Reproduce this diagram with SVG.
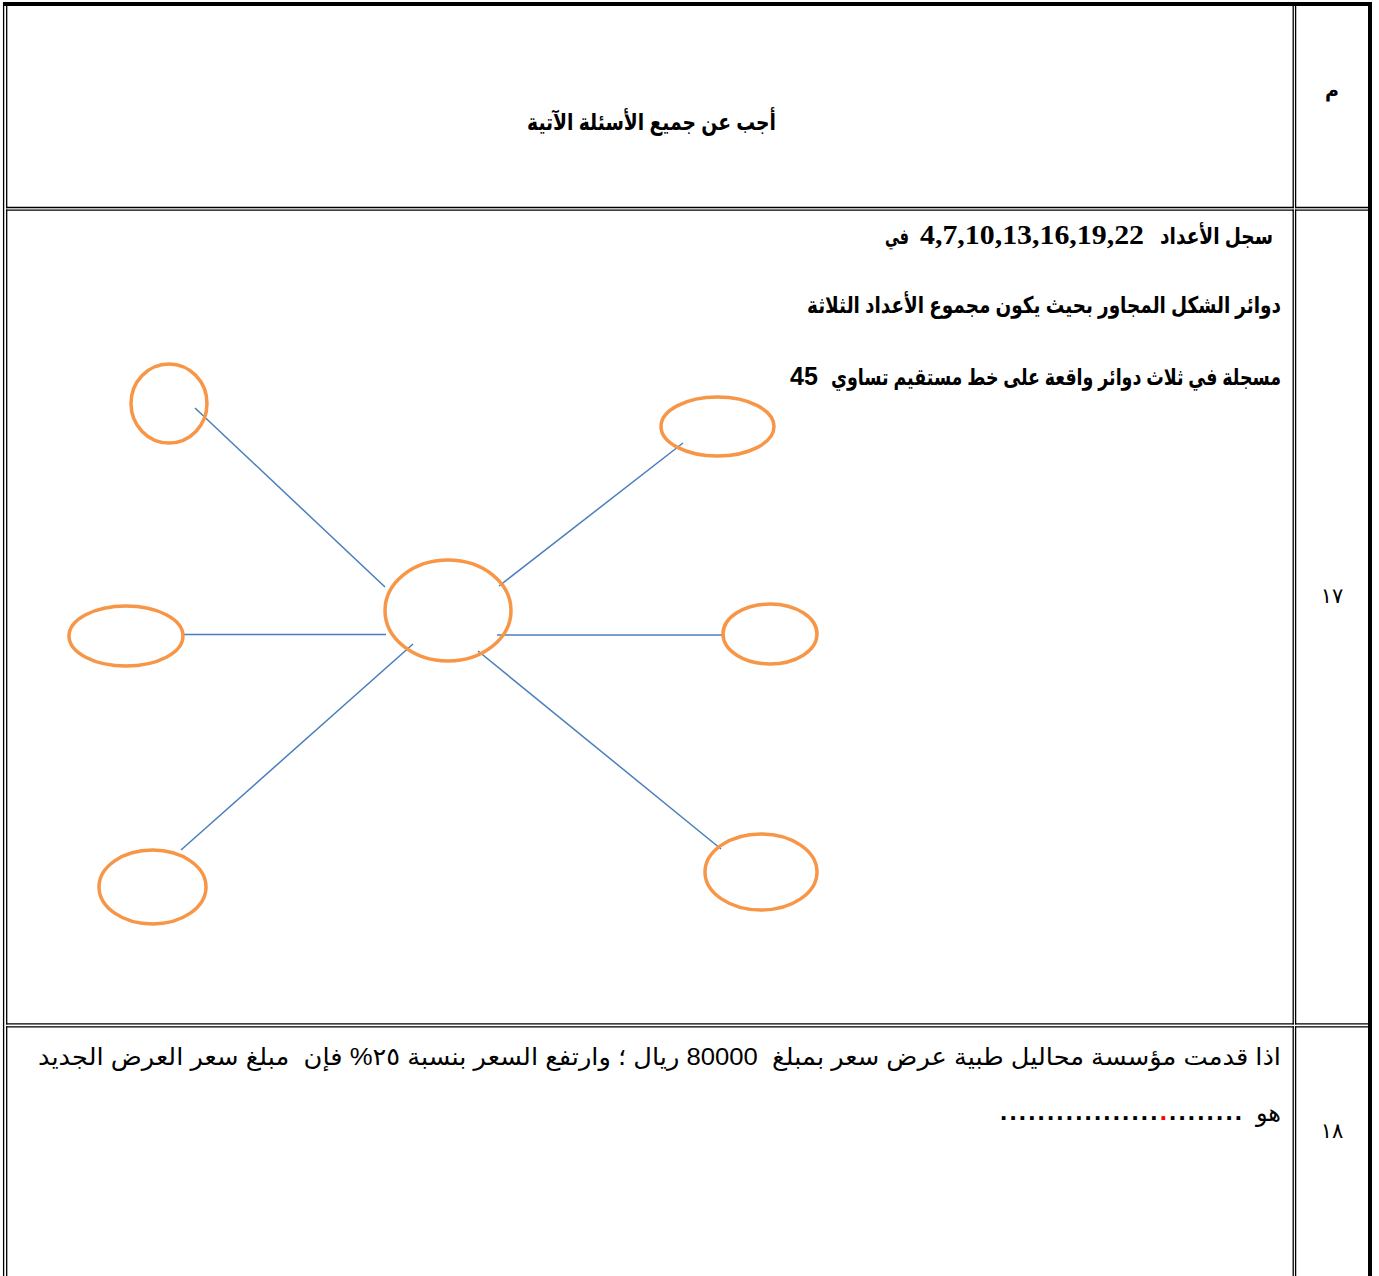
<svg xmlns="http://www.w3.org/2000/svg" width="1379" height="1276" viewBox="0 0 1379 1276">
<style>
.bd{stroke:#000;stroke-width:1.3;fill:none;stroke-linecap:square}
text{white-space:pre}
.ar{font-family:'Liberation Sans','DejaVu Sans',sans-serif;fill:#000}
.b{font-weight:bold}
.num{font-family:'Liberation Serif',serif;font-weight:bold;fill:#000}
.ell{fill:none;stroke:#F79646;stroke-width:3.5}
.cn{stroke:#4A7EBB;stroke-width:1.5;fill:none}
</style>
<rect width="1379" height="1276" fill="#fff"/>
<g id="table">
<rect x="3" y="2" width="1369" height="4" fill="#000"/>
<rect x="1368" y="2" width="4" height="1274" fill="#000"/>
<path class="bd" d="M3.6 3V1276"/>
<path class="bd" d="M6.7 6V207.5M6.7 210.2V1023.8M6.7 1026.9V1276"/>
<path class="bd" d="M1293.2 6V207.5M1293.2 210.2V1023.8M1293.2 1026.9V1276"/>
<path class="bd" d="M1295.6 6V207.5M1295.6 210.2V1023.8M1295.6 1026.9V1276"/>
<path class="bd" d="M6.7 207.5H1293.2M1295.6 207.5H1368M6.7 210.2H1293.2M1295.6 210.2H1368"/>
<path class="bd" d="M6.7 1023.8H1293.2M1295.6 1023.8H1368M6.7 1026.9H1293.2M1295.6 1026.9H1368"/>
</g>
<g id="header">
<text class="ar b" x="1332" y="97" font-size="19" text-anchor="middle">م</text>
<text class="ar b" x="651.5" y="130" font-size="23" text-anchor="middle" direction="rtl" textLength="249" lengthAdjust="spacingAndGlyphs">أجب عن جميع الأسئلة الآتية</text>
</g>
<g id="q17">
<text class="ar" x="1332" y="603" font-size="21" text-anchor="middle">١٧</text>
<text class="ar b" x="1216.5" y="244" font-size="23" text-anchor="middle" direction="rtl" textLength="113" lengthAdjust="spacingAndGlyphs">سجل الأعداد</text>
<text class="num" x="920" y="244" font-size="27" textLength="224" lengthAdjust="spacingAndGlyphs">4,7,10,13,16,19,22</text>
<text class="ar b" x="897" y="244" font-size="22" text-anchor="middle" direction="rtl" textLength="24" lengthAdjust="spacingAndGlyphs">في</text>
<text class="ar b" x="1044" y="313" font-size="23" text-anchor="middle" direction="rtl" textLength="474" lengthAdjust="spacingAndGlyphs">دوائر الشكل المجاور بحيث يكون مجموع الأعداد الثلاثة</text>
<text class="ar b" x="1056" y="385" font-size="23" text-anchor="middle" direction="rtl" textLength="450" lengthAdjust="spacingAndGlyphs">مسجلة في ثلاث دوائر واقعة على خط مستقيم تساوي</text>
<text class="ar b" x="790" y="385" font-size="25">45</text>
</g>
<g id="connectors">
<line class="cn" x1="195" y1="408" x2="385" y2="587"/>
<line class="cn" x1="683" y1="443" x2="499" y2="586"/>
<line class="cn" x1="184" y1="634.5" x2="386" y2="634.5"/>
<line class="cn" x1="497" y1="635" x2="722" y2="635"/>
<line class="cn" x1="413" y1="644" x2="181" y2="850"/>
<line class="cn" x1="478" y1="651" x2="721" y2="849"/>
</g>
<g id="circle-top-left"><ellipse class="ell" cx="169" cy="403.5" rx="38" ry="39.5"/></g>
<g id="circle-top-right"><ellipse class="ell" cx="717.5" cy="426.5" rx="56.5" ry="29.5"/></g>
<g id="circle-center"><ellipse class="ell" cx="448" cy="610.5" rx="63" ry="50.5"/></g>
<g id="circle-left"><ellipse class="ell" cx="126" cy="636" rx="57" ry="30"/></g>
<g id="circle-right"><ellipse class="ell" cx="770" cy="634" rx="47" ry="30"/></g>
<g id="circle-bottom-left"><ellipse class="ell" cx="152.5" cy="887" rx="53.5" ry="37"/></g>
<g id="circle-bottom-right"><ellipse class="ell" cx="761" cy="872" rx="56" ry="38"/></g>
<g id="q18">
<text class="ar" x="1332" y="1138" font-size="21" text-anchor="middle">١٨</text>
<text class="ar" x="659.5" y="1065" font-size="24" text-anchor="middle" direction="rtl" textLength="1243" lengthAdjust="spacingAndGlyphs">اذا قدمت مؤسسة محاليل طبية عرض سعر بمبلغ  80000 ريال ؛ وارتفع السعر بنسبة ٢٥% فإن  مبلغ سعر العرض الجديد</text>
<text class="ar" x="1281" y="1121" font-size="24" text-anchor="end">هو</text>
<text class="ar" x="1000" y="1120" font-size="26" font-weight="bold" textLength="242" lengthAdjust="spacing">.................<tspan fill="#FF0000">.</tspan>........</text>
</g>
</svg>
